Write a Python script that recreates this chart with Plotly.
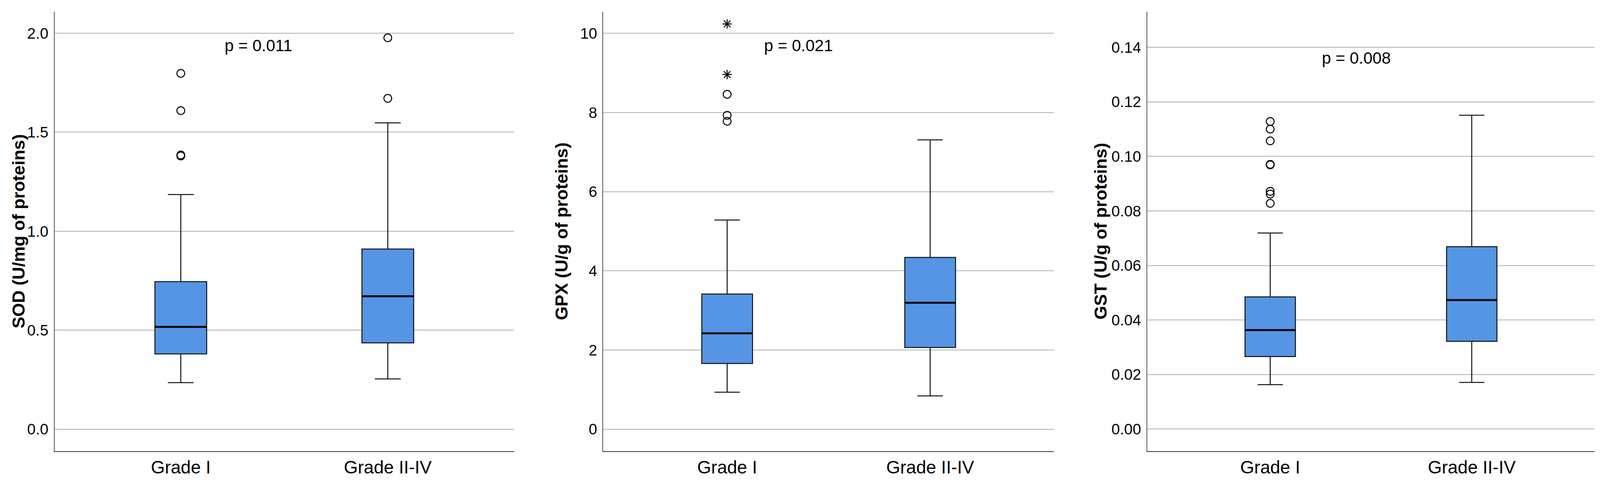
import plotly.graph_objects as go

# groups
categories = ["Grade I", "Grade II-IV"]

# SOD (U/mg of proteins)
sod_lower = [0.235, 0.254]
sod_q1 = [0.380, 0.436]
sod_median = [0.517, 0.671]
sod_q3 = [0.745, 0.910]
sod_upper = [1.185, 1.547]
sod_outliers = [[1.797, 1.609, 1.385, 1.380], [1.977, 1.671]]
sod_extremes = [[], []]

# GPX (U/g of proteins)
gpx_lower = [0.935, 0.842]
gpx_q1 = [1.660, 2.065]
gpx_median = [2.424, 3.196]
gpx_q3 = [3.414, 4.340]
gpx_upper = [5.285, 7.310]
gpx_outliers = [[8.46, 7.93, 7.78], []]
gpx_extremes = [[10.24, 8.96], []]

# GST (U/g of proteins)
gst_lower = [0.0163, 0.0171]
gst_q1 = [0.0266, 0.0322]
gst_median = [0.0363, 0.0473]
gst_q3 = [0.0485, 0.0669]
gst_upper = [0.0719, 0.1151]
gst_outliers = [[0.1128, 0.1100, 0.1057, 0.0971, 0.0969, 0.0872, 0.0862, 0.0828], []]
gst_extremes = [[], []]

ytitles = ["SOD (U/mg of proteins)", "GPX (U/g of proteins)", "GST (U/g of proteins)"]
p_labels = ["p = 0.011", "p = 0.021", "p = 0.008"]
p_pos = [(0.375, 1.938), (0.351, 9.69), (0.427, 0.1361)]

panels = [
    (sod_lower, sod_q1, sod_median, sod_q3, sod_upper, sod_outliers, sod_extremes),
    (gpx_lower, gpx_q1, gpx_median, gpx_q3, gpx_upper, gpx_outliers, gpx_extremes),
    (gst_lower, gst_q1, gst_median, gst_q3, gst_upper, gst_outliers, gst_extremes),
]

W, H = 4339, 1239
FONT = "Liberation Sans, Arial, sans-serif"
BOX_W = 0.25
BLUE = "#5595E5"

x_domains = [[140 / W, 1391 / W], [1634 / W, 2861 / W], [3115 / W, 4333 / W]]
y_domain = [1 - 1162 / H, 1 - 22 / H]
y_ranges = [[-0.111, 2.109], [-0.555, 10.55], [-0.0081, 0.1531]]
y_dticks = [0.5, 2, 0.02]
y_formats = [".1f", "d", ".2f"]
title_offset = [98, 114, 127]

fig = go.Figure()
pos = list(range(len(categories)))

for k, (lo, q1, med, q3, up, outl, extr) in enumerate(panels):
    xa = "x" if k == 0 else f"x{k + 1}"
    ya = "y" if k == 0 else f"y{k + 1}"

    # box + whiskers
    fig.add_trace(go.Box(
        x=pos, q1=q1, median=med, q3=q3, lowerfence=lo, upperfence=up,
        width=BOX_W, whiskerwidth=0.5, boxpoints=False,
        fillcolor=BLUE, line=dict(color="#111111", width=2.5),
        xaxis=xa, yaxis=ya, hoverinfo="skip",
    ))

    # thick median line
    mx, my = [], []
    for i, m in zip(pos, med):
        mx += [i - BOX_W / 2, i + BOX_W / 2, None]
        my += [m, m, None]
    fig.add_trace(go.Scatter(
        x=mx, y=my, mode="lines", line=dict(color="black", width=5),
        xaxis=xa, yaxis=ya, hoverinfo="skip",
    ))

    # outliers (circles)
    ox, oy = [], []
    for i, vals in zip(pos, outl):
        ox += [i] * len(vals)
        oy += vals
    fig.add_trace(go.Scatter(
        x=ox, y=oy, mode="markers",
        marker=dict(symbol="circle-open", size=20, color="black", line=dict(width=2.5)),
        xaxis=xa, yaxis=ya, hoverinfo="skip",
    ))

    # extremes (stars)
    ex, ey = [], []
    for i, vals in zip(pos, extr):
        ex += [i] * len(vals)
        ey += vals
    if ey:
        fig.add_trace(go.Scatter(
            x=ex, y=ey, mode="markers",
            marker=dict(symbol="asterisk-open", size=20, color="black", line=dict(width=2.5)),
            xaxis=xa, yaxis=ya, hoverinfo="skip",
        ))

    sfx = "" if k == 0 else str(k + 1)
    fig.update_layout(**{
        f"xaxis{sfx}": dict(
            domain=x_domains[k], range=[-0.61, 1.61],
            tickvals=pos, ticktext=categories, showgrid=False, zeroline=False,
            showline=True, linecolor="#333333", linewidth=2, ticks="",
            tickfont=dict(family=FONT, size=46, color="black"),
            anchor=ya, automargin=False,
        ),
        f"yaxis{sfx}": dict(
            domain=y_domain, range=y_ranges[k], dtick=y_dticks[k], tick0=0,
            tickformat=y_formats[k], showgrid=True, gridcolor="#B0B0B0", gridwidth=2,
            zeroline=False, showline=True, linecolor="#555555", linewidth=2, ticks="",
            tickfont=dict(family=FONT, size=39, color="black"), ticklabelstandoff=6,
            anchor=xa, automargin=False,
        ),
    })

    # y-axis title
    fig.add_annotation(
        x=x_domains[k][0] - title_offset[k] / W, y=(y_domain[0] + y_domain[1]) / 2,
        xref="paper", yref="paper", xanchor="center", yanchor="middle",
        text=f"<b>{ytitles[k]}</b>", textangle=-90,
        showarrow=False, font=dict(family=FONT, size=45, color="black"),
    )
    # p value
    fig.add_annotation(
        x=p_pos[k][0], y=p_pos[k][1], xref=xa, yref=ya,
        xanchor="center", yanchor="middle", text=p_labels[k],
        showarrow=False, font=dict(family=FONT, size=42, color="black"),
    )

fig.update_layout(
    autosize=True, showlegend=False,
    margin=dict(l=0, r=0, t=0, b=0),
    paper_bgcolor="white", plot_bgcolor="white",
)

fig.write_html("out.html", default_width="100%", default_height="100%",
               config={"responsive": True})
